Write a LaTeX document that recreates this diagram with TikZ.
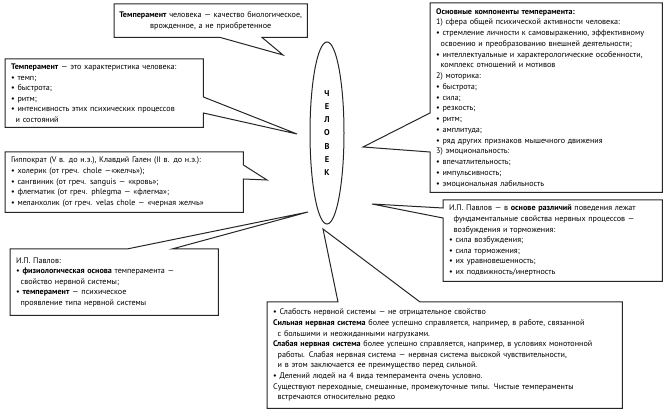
\documentclass[tikz,border=0pt]{standalone}
\usepackage{fontspec}
\setmainfont{PT Sans}
\usepackage{tikz}
\usetikzlibrary{calc, shapes.geometric, backgrounds}

\newcommand{\indcont}{\hspace*{0.55em}}

\begin{document}
\begin{tikzpicture}[
  x = 1pt, y = -1pt,
  font          = \fontsize{8.1}{10.6}\selectfont,
  % text boxes: the outline is drawn separately, together with the pointer
  note/.style   = {anchor=north west, inner xsep=6pt, inner ysep=3pt,
                   align=left},
  bubble/.style = {draw=black!85, line width=1pt, fill=white,
                   line join=miter},
  person/.style = {draw=black!85, line width=1pt, ellipse,
                   minimum width=34pt, minimum height=182pt, inner sep=0pt},
]

% ── Frame: 667 x 411, y runs downwards ─────────────────────────────────────────
\useasboundingbox (0,0) rectangle (667,411);

% ── Centre ─────────────────────────────────────────────────────────────────────
\node[person] (man) at (327,133) {};
\node[font=\fontsize{8.4}{13.2}\selectfont\bfseries, align=center] (manlabel)
      at (man.center) {Ч\\Е\\Л\\О\\В\\Е\\К};

% pointer tips round the ellipse
\coordinate (tipTemper)  at (283,55);
\coordinate (tipChar)    at (297,134);
\coordinate (tipHippo)   at (267,180);
\coordinate (tipPavlovL) at (308,212);
\coordinate (tipComp)    at (363,147);
\coordinate (tipPavlovR) at (372,204);
\coordinate (tipNerve)   at (323,229);

% ── Boxes (text only) ──────────────────────────────────────────────────────────
\node[note, align=center, inner xsep=2pt, text width=189pt,
      minimum height=33pt] (temper) at (114,4)
      {\textbf{Темперамент} человека — качество биологическое,\\
       врожденное, а не приобретенное};

\node[note, text width=186pt, minimum height=68pt] (character) at (5,59)
      {\textbf{Темперамент} — это характеристика человека:\\
       • темп;\\
       • быстрота;\\
       • ритм;\\
       • интенсивность этих психических процессов\\
       \indcont и состояний};

\node[note, text width=226pt, minimum height=60pt] (hippo) at (5,152)
      {Гиппократ (V в. до н.э.), Клавдий Гален (II в. до н.э.):\\
       • холерик (от греч. chole —«желчь»);\\
       • сангвиник (от греч. sanguis — «кровь»;\\
       • флегматик (от греч. phlegma — «флегма»;\\
       • меланхолик (от греч. velas chole — «черная желчь»};

\node[note, text width=196pt, minimum height=66pt] (pavlovL) at (10,249)
      {И.П. Павлов:\\
       • \textbf{физиологическая основа} темперамента —\\
       \indcont свойство нервной системы;\\
       • \textbf{темперамент} — психическое\\
       \indcont проявление типа нервной системы};

\node[note, text width=220pt, minimum height=189pt,
      font=\fontsize{8.1}{10.75}\selectfont] (comp) at (430,3)
      {\textbf{Основные компоненты темперамента:}\\
       1) сфера общей психической активности человека:\\
       • стремление личности к самовыражению, эффективному\\
       \indcont освоению и преобразованию внешней деятельности;\\
       • интеллектуальные и характерологические особенности,\\
       \indcont комплекс отношений и мотивов\\
       2) моторика:\\
       • быстрота;\\
       • сила;\\
       • резкость;\\
       • ритм;\\
       • амплитуда;\\
       • ряд других признаков мышечного движения\\
       3) эмоциональность:\\
       • впечатлительность;\\
       • импульсивность;\\
       • эмоциональная лабильность};

\node[note, text width=207pt, minimum height=81pt] (pavlovR) at (443,200)
      {И.П. Павлов — в \textbf{основе различий} поведения лежат\\
       \indcont фундаментальные свойства нервных процессов —\\
       \indcont возбуждения и торможения:\\
       • сила возбуждения;\\
       • сила торможения;\\
       • их уравновешенность;\\
       • их подвижность/инертность};

\node[note, text width=343pt, minimum height=106pt] (nerve) at (267,302)
      {• Слабость нервной системы — не отрицательное свойство\\
       \textbf{Сильная нервная система} более успешно справляется, например, в работе, связанной\\
       \indcont с большими и неожиданными нагрузками.\\
       \textbf{Слабая нервная система} более успешно справляется, например, в условиях монотонной\\
       \indcont работы. Слабая нервная система — нервная система высокой чувствительности,\\
       \indcont и в этом заключается ее преимущество перед сильной.\\
       • Делений людей на 4 вида темперамента очень условно.\\
       Существуют переходные, смешанные, промежуточные типы. Чистые темпераменты\\
       \indcont встречаются относительно редко};

% ── Outlines with pointers ─────────────────────────────────────────────────────
\begin{scope}[on background layer]
\draw[bubble] (temper.north west) -- (temper.north east) -- (temper.south east)
      -- ($(temper.south west)+(148,0)$) -- (tipTemper)
      -- ($(temper.south west)+(106,0)$) -- (temper.south west) -- cycle;

\draw[bubble] (character.north west) -- (character.north east)
      -- ($(character.north east)+(0,38)$) -- (tipChar)
      -- ($(character.north east)+(0,54)$) -- (character.south east)
      -- (character.south west) -- cycle;

\draw[bubble] (hippo.north west) -- (hippo.north east)
      -- ($(hippo.north east)+(0,13)$) -- (tipHippo)
      -- ($(hippo.north east)+(0,27)$) -- (hippo.south east)
      -- (hippo.south west) -- cycle;

\draw[bubble] (pavlovL.north west) -- ($(pavlovL.north west)+(117,0)$)
      -- (tipPavlovL) -- ($(pavlovL.north west)+(162,0)$)
      -- (pavlovL.north east) -- (pavlovL.south east)
      -- (pavlovL.south west) -- cycle;

\draw[bubble] (comp.north west) -- (comp.north east) -- (comp.south east)
      -- (comp.south west) -- ($(comp.north west)+(0,149)$) -- (tipComp)
      -- ($(comp.north west)+(0,110)$) -- cycle;

\draw[bubble] (pavlovR.north west) -- (pavlovR.north east)
      -- (pavlovR.south east) -- (pavlovR.south west)
      -- ($(pavlovR.north west)+(0,18)$) -- (tipPavlovR)
      -- ($(pavlovR.north west)+(0,8)$) -- cycle;

\draw[bubble] (nerve.north west) -- ($(nerve.north west)+(71,0)$)
      -- (tipNerve) -- ($(nerve.north west)+(153,0)$)
      -- (nerve.north east) -- (nerve.south east)
      -- (nerve.south west) -- cycle;
\end{scope}

\end{tikzpicture}
\end{document}
